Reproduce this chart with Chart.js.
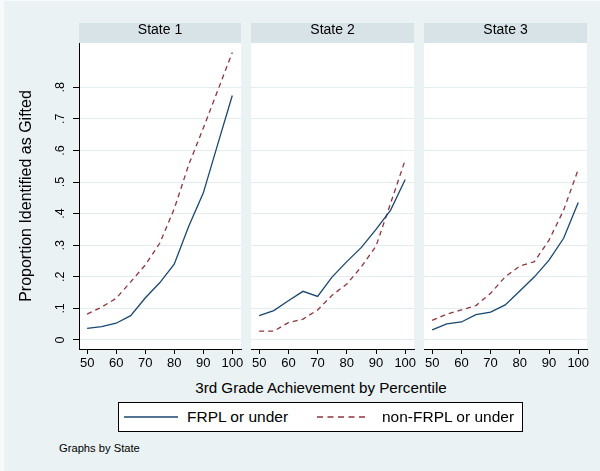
<!DOCTYPE html>
<html lang="en">
<head>
<meta charset="utf-8">
<title>Proportion Identified as Gifted</title>
<script src="https://cdn.jsdelivr.net/npm/chart.js@4.4.1/dist/chart.umd.min.js"></script>
<style>
  html, body { margin: 0; padding: 0; background: #fff; }
  #page { position: relative; width: 600px; height: 471px; overflow: hidden; background: #f7fafb;
          font-family: "Liberation Sans", Arial, sans-serif; color: #000; }
  #region { position: absolute; left: 4px; top: 1px; right: 0; bottom: 0; background: #eaf2f3; }
  #page canvas { position: absolute; }
  #xtitle { position: absolute; left: 0; width: 642px; top: 379px; line-height: 18px;
            text-align: center; font-size: 15.2px; white-space: nowrap; }
  #legend { position: absolute; left: 118px; top: 402px; width: 405px; height: 30px; box-sizing: border-box;
            border: 1px solid #000; background: #fff; font-size: 15.5px; }
  #legend .sample { position: absolute; top: 0; height: 28px; }
  #legend .label { position: absolute; top: 0; line-height: 28px; white-space: nowrap; }
  #note { position: absolute; left: 59px; top: 441px; line-height: 14px; font-size: 11.2px; }
</style>
</head>
<body>
<div id="page">
  <div id="region"></div>
  <canvas id="panel1" width="246" height="350" style="left:0px;top:23px;width:246px;height:350px"></canvas>
  <canvas id="panel2" width="178" height="350" style="left:241px;top:23px;width:178px;height:350px"></canvas>
  <canvas id="panel3" width="178" height="350" style="left:414px;top:23px;width:178px;height:350px"></canvas>
  <div id="xtitle">3rd Grade Achievement by Percentile</div>
  <div id="legend"></div>
  <div id="note">Graphs by State</div>
</div>
<script>
const percentiles = [50, 55, 60, 65, 70, 75, 80, 85, 90, 95, 100];
const stateNames = ['State 1', 'State 2', 'State 3'];
const seriesNames = ['FRPL or under', 'non-FRPL or under'];

const frplState1    = [0.037, 0.042, 0.053, 0.077, 0.133, 0.181, 0.240, 0.360, 0.465, 0.620, 0.774];
const nonFrplState1 = [0.082, 0.104, 0.132, 0.184, 0.237, 0.306, 0.415, 0.555, 0.670, 0.790, 0.910];
const frplState2    = [0.077, 0.093, 0.124, 0.154, 0.138, 0.200, 0.248, 0.293, 0.350, 0.411, 0.508];
const nonFrplState2 = [0.028, 0.028, 0.055, 0.066, 0.095, 0.142, 0.177, 0.232, 0.297, 0.433, 0.570];
const frplState3    = [0.032, 0.051, 0.057, 0.080, 0.088, 0.111, 0.155, 0.200, 0.253, 0.322, 0.435];
const nonFrplState3 = [0.062, 0.082, 0.095, 0.109, 0.148, 0.200, 0.234, 0.248, 0.316, 0.411, 0.540];

const xTicks = [50, 60, 70, 80, 90, 100];
const yTicks = [0, 0.1, 0.2, 0.3, 0.4, 0.5, 0.6, 0.7, 0.8];

const FONT = '"Liberation Sans", Arial, sans-serif';
const NAVY = '#1a476f';
const MAROON = '#90353b';
const DASH = [5, 4];

Chart.defaults.font.family = FONT;
Chart.defaults.color = '#000';

// white plot region plus the grey strip that holds the state name
const stripFill = {
  id: 'stripFill',
  beforeDraw(chart) {
    const { ctx, chartArea: a } = chart;
    ctx.save();
    ctx.fillStyle = '#ffffff';
    ctx.fillRect(a.left, a.top, a.right - a.left, a.bottom - a.top);
    ctx.fillStyle = '#d8e3e8';
    ctx.fillRect(a.left, a.top - 20, a.right - a.left, 20);
    ctx.restore();
  }
};

function lineSet(values, name, color, dash) {
  return {
    label: name,
    data: percentiles.map((p, i) => ({ x: p, y: values[i] })),
    borderColor: color,
    borderWidth: 1.3,
    borderDash: dash,
    pointRadius: 0,
    tension: 0,
    fill: false
  };
}

function yLabel(v) {
  return v === 0 ? '0' : v.toFixed(1).replace(/^0/, '');
}

function makePanel(canvasId, index, frpl, nonFrpl) {
  const first = index === 0;
  return new Chart(document.getElementById(canvasId), {
    type: 'line',
    plugins: [stripFill],
    data: {
      datasets: [
        lineSet(frpl, seriesNames[0], NAVY, []),
        lineSet(nonFrpl, seriesNames[1], MAROON, DASH)
      ]
    },
    options: {
      responsive: false,
      animation: false,
      events: [],
      layout: { padding: { left: first ? 0 : 10, right: 5, top: 0, bottom: 0 } },
      plugins: {
        legend: { display: false },
        tooltip: { enabled: false },
        title: {
          display: true,
          text: stateNames[index],
          fullSize: false,
          color: '#000',
          font: { size: 14, weight: 'normal', lineHeight: '14px' },
          padding: { top: 0, bottom: 6 }
        }
      },
      scales: {
        x: {
          type: 'linear',
          min: 47.2,
          max: 103,
          afterBuildTicks: s => { s.ticks = xTicks.map(v => ({ value: v })); },
          afterFit: s => { s.height = 24; },
          grid: { drawOnChartArea: false, tickLength: 5, tickColor: '#000', tickWidth: 1 },
          border: { display: true, color: '#000', width: 1 },
          ticks: { color: '#000', padding: 2, maxRotation: 0, font: { size: 13 }, callback: v => String(v) }
        },
        y: {
          type: 'linear',
          min: -0.0285,
          max: 0.94,
          afterBuildTicks: s => { s.ticks = yTicks.map(v => ({ value: v })); },
          afterFit: s => { s.width = first ? 79 : 0; },
          grid: { color: '#e3ecef', lineWidth: 1, drawTicks: first, tickLength: 6, tickColor: '#000', tickWidth: 1 },
          border: { display: first, color: '#000', width: 1 },
          ticks: {
            display: first,
            color: '#000',
            minRotation: 90,
            maxRotation: 90,
            crossAlign: 'center',
            padding: 7.5,
            font: { size: 12.5 },
            callback: v => yLabel(v)
          },
          title: {
            display: first,
            text: 'Proportion Identified as Gifted',
            color: '#000',
            font: { size: 16 },
            padding: { top: 17, bottom: 0 }
          }
        }
      }
    }
  });
}

const panels = [
  makePanel('panel1', 0, frplState1, nonFrplState1),
  makePanel('panel2', 1, frplState2, nonFrplState2),
  makePanel('panel3', 2, frplState3, nonFrplState3)
];

// shared key, built from the first panel's datasets
const legendBox = document.getElementById('legend');
const keySlots = [{ sample: 5, width: 54, text: 68 }, { sample: 198, width: 48, text: 263 }];
panels[0].data.datasets.forEach((ds, i) => {
  const slot = keySlots[i];
  const svgNS = 'http://www.w3.org/2000/svg';
  const svg = document.createElementNS(svgNS, 'svg');
  svg.setAttribute('class', 'sample');
  svg.setAttribute('width', slot.width);
  svg.setAttribute('height', 28);
  svg.style.left = slot.sample + 'px';
  const line = document.createElementNS(svgNS, 'line');
  line.setAttribute('x1', 0);
  line.setAttribute('x2', slot.width);
  line.setAttribute('y1', 14);
  line.setAttribute('y2', 14);
  line.setAttribute('stroke', ds.borderColor);
  line.setAttribute('stroke-width', 1.3);
  if (ds.borderDash.length) line.setAttribute('stroke-dasharray', '6 4.5');
  svg.appendChild(line);
  legendBox.appendChild(svg);
  const label = document.createElement('span');
  label.className = 'label';
  label.style.left = slot.text + 'px';
  label.textContent = ds.label;
  legendBox.appendChild(label);
});
</script>
</body>
</html>
